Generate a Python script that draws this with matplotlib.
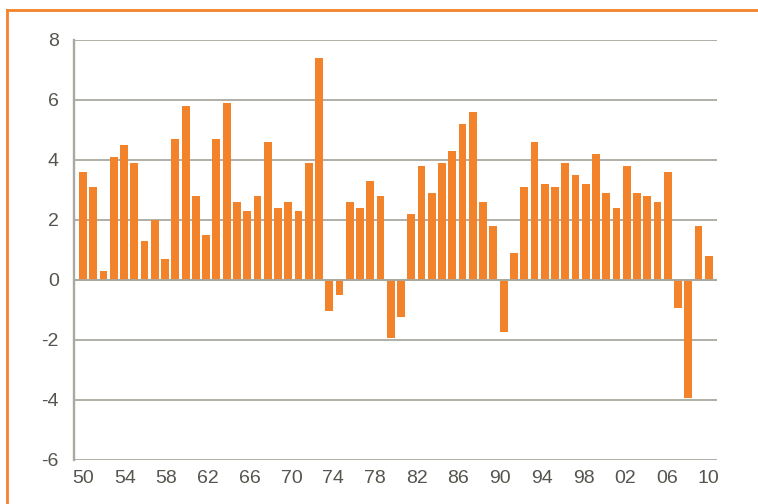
import numpy as np
import matplotlib.pyplot as plt
from matplotlib.lines import Line2D

# Annual growth, %, 1950-2011
years = np.arange(1950, 2012)
growth = [3.6, 3.1, 0.3, 4.1, 4.5, 3.9, 1.3, 2.0, 0.7, 4.7,
          5.8, 2.8, 1.5, 4.7, 5.9, 2.6, 2.3, 2.8, 4.6, 2.4,
          2.6, 2.3, 3.9, 7.4, -1.05, -0.5, 2.6, 2.4, 3.3, 2.8,
          -1.95, -1.25, 2.2, 3.8, 2.9, 3.9, 4.3, 5.2, 5.6, 2.6,
          1.8, -1.75, 0.9, 3.1, 4.6, 3.2, 3.1, 3.9, 3.5, 3.2,
          4.2, 2.9, 2.4, 3.8, 2.9, 2.8, 2.6, 3.6, -0.95, -3.95,
          1.8, 0.8]
tick_labels = ['50', '54', '58', '62', '66', '70', '74', '78',
               '82', '86', '90', '94', '98', '02', '06', '10']
y_ticks = [-6, -4, -2, 0, 2, 4, 6, 8]

bar_color = '#F3832A'
grid_color = '#A9A9A1'
text_color = '#55554F'

plt.rcParams['font.family'] = ['Liberation Sans', 'DejaVu Sans']

fig = plt.figure(figsize=(7.58, 5.04), dpi=100)
ax = fig.add_axes([74 / 758, 1 - 460 / 504, (717 - 74) / 758, 420 / 504])

ax.bar(years, growth, width=0.76, color=bar_color, zorder=2)
ax.axhline(0, color=grid_color, lw=1.3, zorder=3)

ax.set_ylim(-6, 8)
ax.set_xlim(1949.12, 2011.8)
ax.set_yticks(y_ticks)
ax.set_yticklabels([str(v) for v in y_ticks])
ax.set_xticks(np.linspace(1950, 2011, len(tick_labels)))
ax.set_xticklabels(tick_labels)
ax.yaxis.grid(True, color=grid_color, lw=1.3, zorder=1)
ax.set_axisbelow(True)

for side in ['top', 'right', 'bottom']:
    ax.spines[side].set_visible(False)
ax.spines['left'].set_color(grid_color)
ax.spines['left'].set_linewidth(1.7)
ax.tick_params(axis='both', length=0, labelsize=14, colors=text_color)
ax.tick_params(axis='y', pad=11)
ax.tick_params(axis='x', pad=7)

# orange frame (left and top edges)
fig.add_artist(Line2D([7 / 758, 7 / 758], [0, 1 - 10 / 504], color=bar_color,
                      lw=2, transform=fig.transFigure))
fig.add_artist(Line2D([7 / 758, 1], [1 - 10 / 504, 1 - 10 / 504], color=bar_color,
                      lw=2, transform=fig.transFigure))

fig.savefig('out.png', dpi=100)
